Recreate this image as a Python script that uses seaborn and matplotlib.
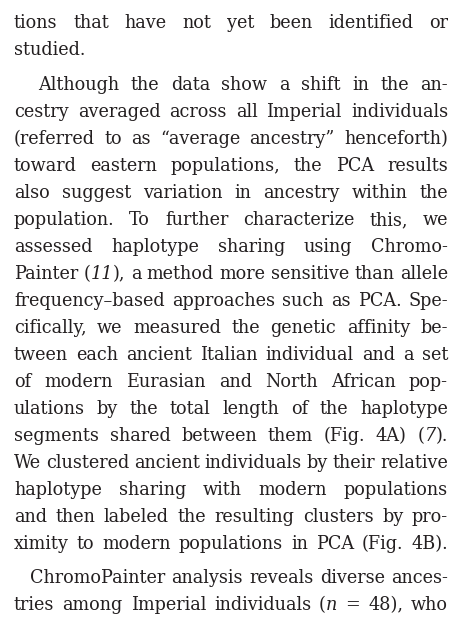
import matplotlib
matplotlib.use("Agg")
import matplotlib.pyplot as plt
import seaborn as sns

# each line: (indent_px, justified, text); words wrapped in _..._ are italic
lines = [
    (0, True, "tions that have not yet been identified or"),
    (0, False, "studied."),
    (24, True, "Although the data show a shift in the an-"),
    (0, True, "cestry averaged across all Imperial individuals"),
    (0, True, "(referred to as “average ancestry” henceforth)"),
    (0, True, "toward eastern populations, the PCA results"),
    (0, True, "also suggest variation in ancestry within the"),
    (0, True, "population. To further characterize this, we"),
    (0, True, "assessed haplotype sharing using Chromo-"),
    (0, True, "Painter (_11_), a method more sensitive than allele"),
    (0, True, "frequency–based approaches such as PCA. Spe-"),
    (0, True, "cifically, we measured the genetic affinity be-"),
    (0, True, "tween each ancient Italian individual and a set"),
    (0, True, "of modern Eurasian and North African pop-"),
    (0, True, "ulations by the total length of the haplotype"),
    (0, True, "segments shared between them (Fig. 4A) (_7_)."),
    (0, True, "We clustered ancient individuals by their relative"),
    (0, True, "haplotype sharing with modern populations"),
    (0, True, "and then labeled the resulting clusters by pro-"),
    (0, True, "ximity to modern populations in PCA (Fig. 4B)."),
    (16, True, "ChromoPainter analysis reveals diverse ances-"),
    (0, True, "tries among Imperial individuals (_n_ = 48), who"),
]
line_y = [28, 55, 90, 117, 144, 171, 198, 225, 252, 279, 306, 333, 360,
          387, 414, 441, 468, 495, 522, 549, 583, 610]

sns.set_style("white")
plt.rcParams["font.family"] = ["DejaVu Serif", "Liberation Serif"]

fig = plt.figure(figsize=(4.6, 6.33), dpi=100)
ax = fig.add_axes([0, 0, 1, 1])
ax.set_xlim(0, 460)
ax.set_ylim(633, 0)
ax.axis("off")
fig.canvas.draw()
renderer = fig.canvas.get_renderer()

LEFT, RIGHT = 14, 448
COLOR = "#231f20"
MIN_GAP = 4.5


def split_parts(word):
    parts, italic = [], False
    for p in word.split("_"):
        if p:
            parts.append((p, italic))
        italic = not italic
    return parts


def measure(word, fs):
    total = 0
    for piece, it in split_parts(word):
        t = ax.text(0, 0, piece, fontsize=fs, style="italic" if it else "normal")
        total += t.get_window_extent(renderer).width
        t.remove()
    return total


# pick a font size so that the tightest line still fits
fs = 14.0
scale = 10.0
for indent, just, text in lines:
    words = text.split(" ")
    w = sum(measure(x, fs) for x in words)
    avail = RIGHT - LEFT - indent - MIN_GAP * (len(words) - 1)
    scale = min(scale, avail / w)
fs = fs * min(scale, 1.15)

for (indent, just, text), y in zip(lines, line_y):
    words = text.split(" ")
    arts, widths = [], []
    for w in words:
        pieces = []
        for piece, it in split_parts(w):
            t = ax.text(0, y, piece, fontsize=fs, color=COLOR, va="baseline",
                        style="italic" if it else "normal")
            pieces.append((t, t.get_window_extent(renderer).width))
        arts.append(pieces)
        widths.append(sum(p[1] for p in pieces))
    x0 = LEFT + indent
    if just and len(words) > 1:
        gap = (RIGHT - x0 - sum(widths)) / (len(words) - 1)
    else:
        gap = MIN_GAP
    x = x0
    for pieces, wd in zip(arts, widths):
        xx = x
        for t, pw in pieces:
            t.set_x(xx)
            xx += pw
        x += wd + gap

fig.savefig("out.png", dpi=100, facecolor="white")
